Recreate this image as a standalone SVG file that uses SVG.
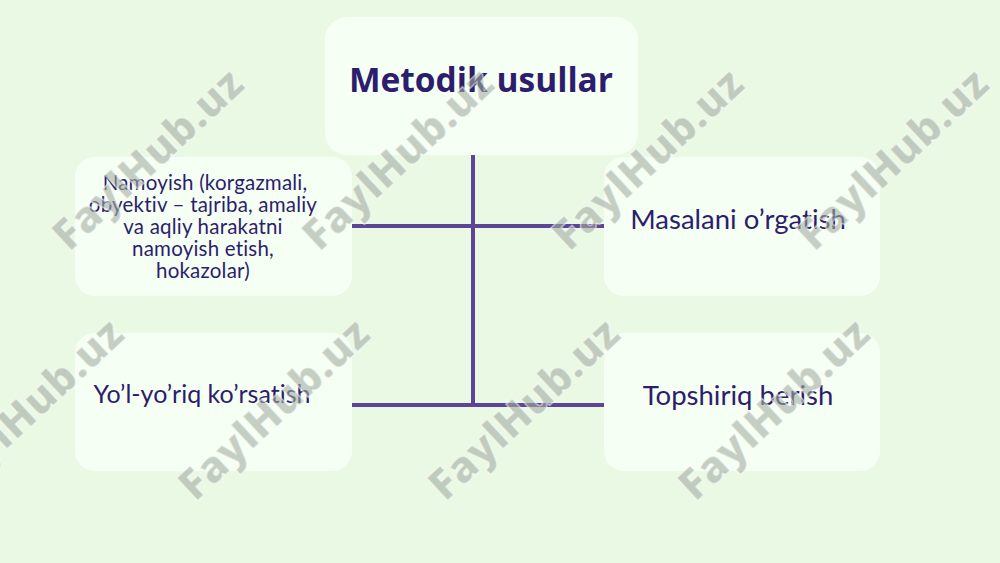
<svg xmlns="http://www.w3.org/2000/svg" width="1000" height="563" viewBox="0 0 1000 563">
<style>
.box{fill:#f6fff3;}
.t{font-family:Lato,"Open Sans","DejaVu Sans",sans-serif;fill:#2c1d6e;text-anchor:middle;font-variant-ligatures:none;}
.h{font-family:"Open Sans","Noto Sans","DejaVu Sans",sans-serif;font-weight:bold;}
.wm{font-family:"Open Sans","DejaVu Sans",sans-serif;font-weight:800;font-size:43px;fill:#a3ada1;fill-opacity:0.6;stroke:#ffffff;stroke-opacity:0.5;stroke-width:1.5;text-anchor:middle;}
.c{stroke:#5d4496;stroke-width:4;fill:none;}
</style>
<rect width="1000" height="563" fill="#e9f9e4"/>
<g id="n0"><rect class="box" x="325" y="17" width="313" height="138" rx="22"/><text class="t h" x="481" y="92" font-size="33.5">Metodik usullar</text></g>
<g id="n1"><rect class="box" x="75" y="157" width="277" height="139" rx="20"/>
<text class="t" font-size="20.5" letter-spacing="0.2"><tspan x="205" y="190">Namoyish (korgazmali,</tspan><tspan x="203" y="212">obyektiv – tajriba, amaliy</tspan><tspan x="203" y="234">va aqliy harakatni</tspan><tspan x="203" y="256">namoyish etish,</tspan><tspan x="203" y="278">hokazolar)</tspan></text></g>
<g id="n2"><rect class="box" x="604" y="157" width="276" height="139" rx="20"/><text class="t" x="738" y="229" font-size="27.5">Masalani o’rgatish</text></g>
<g id="n3"><rect class="box" x="75" y="333" width="277" height="138" rx="20"/><text class="t" x="202" y="403" font-size="25">Yo’l-yo’riq ko’rsatish</text></g>
<g id="n4"><rect class="box" x="604" y="333" width="276" height="138" rx="20"/><text class="t" x="738" y="405" font-size="27.5">Topshiriq berish</text></g>
<g id="connectors">
<line class="c" x1="473" y1="155" x2="473" y2="407"/>
<line class="c" x1="352" y1="226" x2="604" y2="226"/>
<line class="c" x1="352" y1="405" x2="604" y2="405"/>
</g>
<g id="watermarks">
<text class="wm" transform="translate(158,170) rotate(-43)">FaylHub.uz</text>
<text class="wm" transform="translate(408,170) rotate(-43)">FaylHub.uz</text>
<text class="wm" transform="translate(658,170) rotate(-43)">FaylHub.uz</text>
<text class="wm" transform="translate(903,170) rotate(-43)">FaylHub.uz</text>
<text class="wm" transform="translate(38,420) rotate(-43)">FaylHub.uz</text>
<text class="wm" transform="translate(284,420) rotate(-43)">FaylHub.uz</text>
<text class="wm" transform="translate(534,420) rotate(-43)">FaylHub.uz</text>
<text class="wm" transform="translate(784,420) rotate(-43)">FaylHub.uz</text>
</g>
</svg>
